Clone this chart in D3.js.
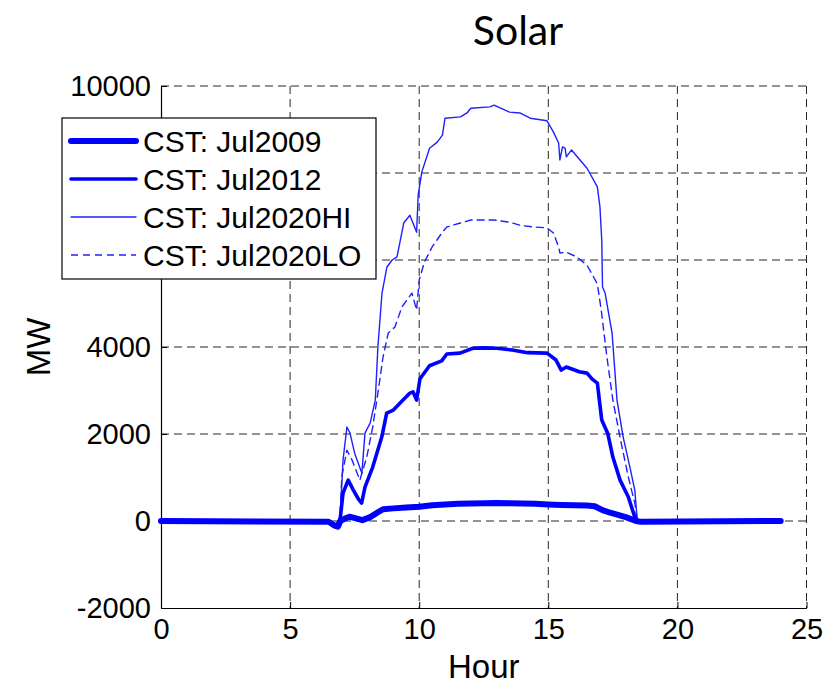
<!DOCTYPE html>
<html>
<head>
<meta charset="utf-8">
<script src="https://cdn.jsdelivr.net/npm/d3@7"></script>
<style>
  html, body { margin: 0; padding: 0; background: #fff; }
  svg { display: block; }
</style>
</head>
<body>
<svg id="chart" width="831" height="686"></svg>
<script>
// Solar output (MW) over a July day, by scenario
const seriesNames = ["CST: Jul2009", "CST: Jul2012", "CST: Jul2020HI", "CST: Jul2020LO"];

const hours2009 = [0, 6.5, 6.7, 6.85, 6.95, 7.1, 7.3, 7.55, 7.8, 8.1, 8.4, 8.6, 9.0, 9.5, 10.0, 10.5, 11.0, 11.5, 12.0, 12.5, 13.0, 13.5, 14.0, 14.5, 15.0, 15.5, 16.0, 16.5, 16.8, 17.1, 17.4, 17.7, 18.0, 18.4, 18.6, 24];
const mw2009 = [0, -20, -100, -130, 0, 50, 100, 60, 20, 90, 200, 270, 290, 310, 330, 360, 380, 395, 405, 410, 414, 410, 400, 395, 380, 370, 360, 355, 340, 250, 190, 140, 90, 0, -20, 0];

const hours2012 = [0, 6.5, 6.8, 6.9, 6.95, 7.05, 7.25, 7.45, 7.65, 7.77, 7.9, 8.2, 8.55, 8.74, 9.0, 9.26, 9.64, 9.76, 9.9, 10.03, 10.4, 10.87, 11.07, 11.58, 12.08, 12.5, 13.0, 13.6, 14.2, 14.95, 15.3, 15.5, 15.7, 16.2, 16.5, 16.7, 16.9, 17.07, 17.3, 17.5, 17.78, 18.1, 18.3, 18.4, 24];
const mw2012 = [0, -20, -100, 0, 100, 640, 940, 710, 500, 410, 780, 1240, 1930, 2480, 2550, 2710, 2940, 2970, 2780, 3270, 3570, 3680, 3840, 3860, 3970, 3980, 3970, 3930, 3870, 3860, 3700, 3470, 3540, 3430, 3400, 3260, 3170, 2320, 2020, 1470, 940, 550, 180, 0, 0];

const hoursHI = [0, 6.5, 6.8, 6.93, 7.05, 7.2, 7.32, 7.5, 7.78, 7.9, 8.1, 8.3, 8.4, 8.56, 8.75, 8.95, 9.14, 9.4, 9.64, 9.9, 9.96, 10.1, 10.4, 10.7, 10.9, 11.0, 11.6, 11.85, 12.0, 12.74, 12.9, 13.5, 13.9, 14.3, 14.95, 15.2, 15.4, 15.45, 15.55, 15.65, 15.7, 15.9, 16.5, 16.9, 17.0, 17.07, 17.1, 17.2, 17.47, 17.66, 17.9, 18.16, 18.35, 18.45, 24];
const mwHI = [0, -20, -120, 0, 1400, 2160, 2020, 1560, 1100, 2020, 2250, 2780, 4000, 5240, 5840, 6000, 6070, 6850, 7030, 6640, 7490, 8020, 8570, 8710, 8870, 9260, 9290, 9380, 9490, 9520, 9560, 9400, 9380, 9260, 9200, 8940, 8690, 8300, 8600, 8570, 8370, 8530, 8110, 7680, 7220, 6460, 5380, 5240, 4320, 2780, 1930, 1240, 710, 0, 0];

const hoursLO = [0, 6.5, 6.8, 6.93, 7.0, 7.2, 7.4, 7.7, 7.97, 8.2, 8.4, 8.6, 8.8, 9.06, 9.33, 9.72, 9.9, 10.0, 10.2, 10.5, 10.9, 11.07, 11.6, 12.0, 12.9, 13.5, 13.9, 14.4, 14.95, 15.2, 15.4, 15.45, 15.7, 16.1, 16.5, 16.9, 17.05, 17.27, 17.5, 17.8, 18.1, 18.35, 18.45, 24];
const mwLO = [0, -20, -120, 0, 1010, 1630, 1400, 940, 1470, 2160, 2940, 3770, 4320, 4460, 4920, 5240, 4850, 5540, 5950, 6300, 6640, 6760, 6850, 6920, 6920, 6870, 6800, 6760, 6740, 6620, 6300, 6160, 6180, 6070, 5880, 5450, 4850, 3770, 2780, 1860, 1010, 410, 0, 0];

const xTicks = [0, 5, 10, 15, 20, 25];
const yTicks = [-2000, 0, 2000, 4000, 6000, 8000, 10000];

const svg = d3.select("#chart");
const plotLeft = 161, plotRight = 806.5, plotTop = 86, plotBottom = 608;

const x = d3.scaleLinear().domain([0, 25]).range([plotLeft, plotRight]);
const y = d3.scaleLinear().domain([-2000, 10000]).range([plotBottom, plotTop]);

const tickFont = "'Liberation Sans', Arial, sans-serif";

// dashed grid
const grid = svg.append("g").attr("stroke", "#262626").attr("stroke-width", 1)
  .attr("stroke-dasharray", "8,5").attr("fill", "none");
xTicks.filter(d => d > 0).forEach(d => {
  grid.append("line").attr("x1", x(d)).attr("x2", x(d)).attr("y1", y(10000)).attr("y2", y(-2000));
});
yTicks.filter(d => d > -2000).forEach(d => {
  grid.append("line").attr("x1", x(0)).attr("x2", x(25)).attr("y1", y(d)).attr("y2", y(d));
});

// axes (ticks point inward)
const xAxis = svg.append("g").attr("transform", `translate(0,${plotBottom})`)
  .call(d3.axisBottom(x).tickValues(xTicks).tickSize(-6).tickPadding(10).tickSizeOuter(0));
const yAxis = svg.append("g").attr("transform", `translate(${plotLeft},0)`)
  .call(d3.axisLeft(y).tickValues(yTicks).tickSize(-6).tickPadding(10).tickSizeOuter(0).tickFormat(d => String(d)));
[xAxis, yAxis].forEach(a => {
  a.select(".domain").attr("stroke", "#000").attr("stroke-width", 1.2);
  a.selectAll(".tick line").attr("stroke", "#000");
  a.selectAll("text").attr("font-family", tickFont).attr("font-size", 29).attr("fill", "#000");
});
xAxis.selectAll("text").attr("dy", "0.71em");

// series
const series = [
  { name: seriesNames[0], h: hours2009, v: mw2009, width: 6, dash: null, color: "#0000ff" },
  { name: seriesNames[1], h: hours2012, v: mw2012, width: 3.6, dash: null, color: "#0000ff" },
  { name: seriesNames[2], h: hoursHI, v: mwHI, width: 1.4, dash: null, color: "#2020ff" },
  { name: seriesNames[3], h: hoursLO, v: mwLO, width: 1.4, dash: "7,5", color: "#2020ff" }
];

const line = d3.line().x(d => x(d[0])).y(d => y(d[1]));
series.slice().reverse().forEach(s => {
  svg.append("path")
    .datum(s.h.map((h, i) => [h, s.v[i]]))
    .attr("d", line)
    .attr("fill", "none")
    .attr("stroke", s.color)
    .attr("stroke-width", s.width)
    .attr("stroke-linejoin", "round")
    .attr("stroke-linecap", "round")
    .attr("stroke-dasharray", s.dash);
});

// legend box, drawn over the upper-left of the axes
const legendBox = { x: 62, y: 118, w: 314, h: 161 };
const lg = svg.append("g");
lg.append("rect").attr("x", legendBox.x).attr("y", legendBox.y)
  .attr("width", legendBox.w).attr("height", legendBox.h)
  .attr("fill", "#fff").attr("stroke", "#000").attr("stroke-width", 1.2);
const rowY = [141, 179, 217, 255];
series.forEach((s, i) => {
  lg.append("line").attr("x1", 71).attr("x2", 136).attr("y1", rowY[i]).attr("y2", rowY[i])
    .attr("stroke", s.color).attr("stroke-width", s.width)
    .attr("stroke-linecap", s.dash ? "butt" : "round")
    .attr("stroke-dasharray", s.dash);
  lg.append("text").attr("x", 143).attr("y", rowY[i]).attr("dy", "0.36em")
    .attr("font-family", tickFont).attr("font-size", 30).attr("fill", "#000")
    .text(s.name);
});

// tick labels that sit entirely under the legend box are not visible; drop them
yAxis.selectAll(".tick").filter(d => {
  const py = y(d);
  return py > legendBox.y + 10 && py < legendBox.y + legendBox.h - 10;
}).select("text").remove();

// labels
svg.append("text").attr("x", (plotLeft + plotRight) / 2).attr("y", 678)
  .attr("text-anchor", "middle").attr("font-family", tickFont).attr("font-size", 33)
  .text("Hour");
svg.append("text").attr("transform", `translate(50,${(plotTop + plotBottom) / 2}) rotate(-90)`)
  .attr("text-anchor", "middle").attr("font-family", tickFont).attr("font-size", 33)
  .text("MW");
svg.append("text").attr("x", 518).attr("y", 45)
  .attr("text-anchor", "middle").attr("font-family", "Lato, 'Open Sans', sans-serif").attr("font-size", 41)
  .text("Solar");
</script>
</body>
</html>
